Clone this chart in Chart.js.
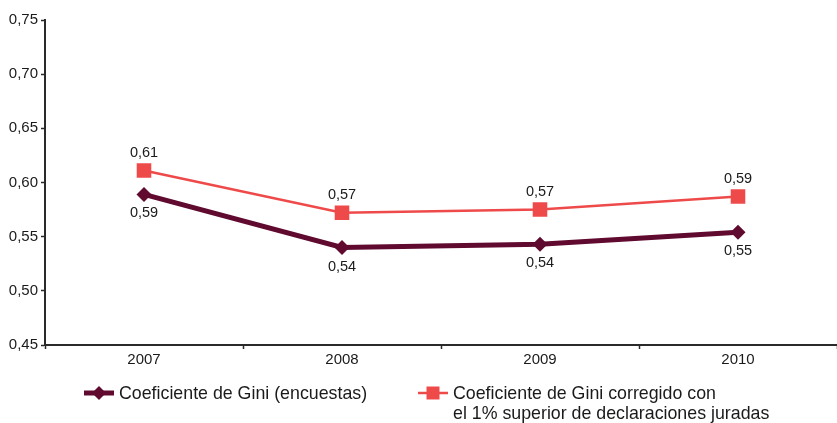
<!DOCTYPE html>
<html>
<head>
<meta charset="utf-8">
<script src="https://cdn.jsdelivr.net/npm/chart.js@4"></script>
<style>
  html, body { margin: 0; padding: 0; background: #fff; }
  #wrap { width: 837px; height: 423px; position: relative; }
</style>
</head>
<body>
<div id="wrap"><canvas id="c" width="837" height="423"></canvas></div>
<script>
// Years on the horizontal axis
const years = ['2007', '2008', '2009', '2010'];

// Gini coefficient from household surveys
const giniSurvey = [0.589, 0.540, 0.543, 0.554];

// Gini coefficient corrected with the top 1% of tax returns
const giniCorrected = [0.611, 0.572, 0.575, 0.587];

// Series names shown in the legend (second one split over two lines)
const surveyLabel = ['Coeficiente de Gini (encuestas)'];
const correctedLabel = ['Coeficiente de Gini corregido con', 'el 1% superior de declaraciones juradas'];

// Value axis range and step
const yMin = 0.45, yMax = 0.75, yStep = 0.05;

const DARK = '#600a30';
const RED = '#ef4a4a';
const AXIS = '#2a2a2a';
const TEXT = '#1a1a1a';
const FONT = '"Liberation Sans", Arial, Helvetica, sans-serif';

const fmt = v => v.toFixed(2).replace('.', ',');

// Value labels: corrected series above its points, survey series below
const valueLabels = {
  id: 'valueLabels',
  afterDatasetsDraw(chart) {
    const ctx = chart.ctx;
    ctx.save();
    ctx.font = '14.5px ' + FONT;
    ctx.fillStyle = TEXT;
    ctx.textAlign = 'center';
    ctx.textBaseline = 'middle';
    chart.data.datasets.forEach((ds, i) => {
      const meta = chart.getDatasetMeta(i);
      const dy = ds.labelSide === 'above' ? -18 : 19;
      meta.data.forEach((pt, j) => {
        ctx.fillText(fmt(ds.data[j]), pt.x, pt.y + dy);
      });
    });
    ctx.restore();
  }
};

// Legend under the plot, with multi-line text for the second entry
const bottomLegend = {
  id: 'bottomLegend',
  afterDraw(chart) {
    const ctx = chart.ctx;
    const items = [
      { ds: chart.data.datasets[0], x: 84, y: 393 },
      { ds: chart.data.datasets[1], x: 418, y: 393 }
    ];
    ctx.save();
    items.forEach(it => {
      const ds = it.ds;
      const cx = it.x + 15;
      ctx.strokeStyle = ds.borderColor;
      ctx.lineWidth = ds.borderWidth;
      ctx.beginPath();
      ctx.moveTo(it.x, it.y);
      ctx.lineTo(it.x + 30, it.y);
      ctx.stroke();
      ctx.fillStyle = ds.pointBackgroundColor;
      ctx.beginPath();
      if (ds.pointStyle === 'rectRot') {
        const r = 7;
        ctx.moveTo(cx - r, it.y);
        ctx.lineTo(cx, it.y - r);
        ctx.lineTo(cx + r, it.y);
        ctx.lineTo(cx, it.y + r);
        ctx.closePath();
      } else {
        const s = 6.5;
        ctx.rect(cx - s, it.y - s, 2 * s, 2 * s);
      }
      ctx.fill();
      ctx.fillStyle = TEXT;
      ctx.font = '17.8px ' + FONT;
      ctx.textAlign = 'left';
      ctx.textBaseline = 'middle';
      ds.label.forEach((line, k) => {
        ctx.fillText(line, it.x + 35, it.y + 1 + k * 20);
      });
    });
    ctx.restore();
  }
};

new Chart(document.getElementById('c'), {
  type: 'line',
  data: {
    labels: years,
    datasets: [
      {
        label: surveyLabel,
        data: giniSurvey,
        borderColor: DARK,
        backgroundColor: DARK,
        pointBackgroundColor: DARK,
        borderWidth: 5,
        pointStyle: 'rectRot',
        pointRadius: 7.5,
        pointHoverRadius: 7.5,
        pointBorderWidth: 0,
        tension: 0,
        labelSide: 'below'
      },
      {
        label: correctedLabel,
        data: giniCorrected,
        borderColor: RED,
        backgroundColor: RED,
        pointBackgroundColor: RED,
        borderWidth: 2.5,
        pointStyle: 'rect',
        pointRadius: 10.3,
        pointHoverRadius: 10.3,
        pointBorderWidth: 0,
        tension: 0,
        labelSide: 'above'
      }
    ]
  },
  options: {
    responsive: false,
    animation: false,
    devicePixelRatio: 1,
    layout: { autoPadding: false, padding: { top: 20, right: 0, bottom: 0, left: 0 } },
    plugins: {
      legend: { display: false },
      tooltip: { enabled: false }
    },
    scales: {
      x: {
        type: 'category',
        offset: true,
        afterFit(s) { s.height = 78; s.paddingLeft = 0; s.paddingRight = 0; },
        grid: {
          offset: true,
          drawOnChartArea: false,
          drawTicks: true,
          tickLength: 4,
          tickWidth: 1.5,
          tickColor: AXIS
        },
        border: { display: true, color: AXIS, width: 2 },
        ticks: {
          color: TEXT,
          padding: 2,
          font: { family: FONT, size: 15 },
          maxRotation: 0
        }
      },
      y: {
        min: yMin,
        max: yMax,
        afterFit(s) { s.width = 45; },
        grid: {
          drawOnChartArea: false,
          drawTicks: true,
          tickLength: 4,
          tickWidth: 1.5,
          tickColor: AXIS
        },
        border: { display: true, color: AXIS, width: 2 },
        ticks: {
          stepSize: yStep,
          color: TEXT,
          padding: 3,
          font: { family: FONT, size: 15 },
          callback: v => fmt(v)
        }
      }
    }
  },
  plugins: [valueLabels, bottomLegend]
});
</script>
</body>
</html>
